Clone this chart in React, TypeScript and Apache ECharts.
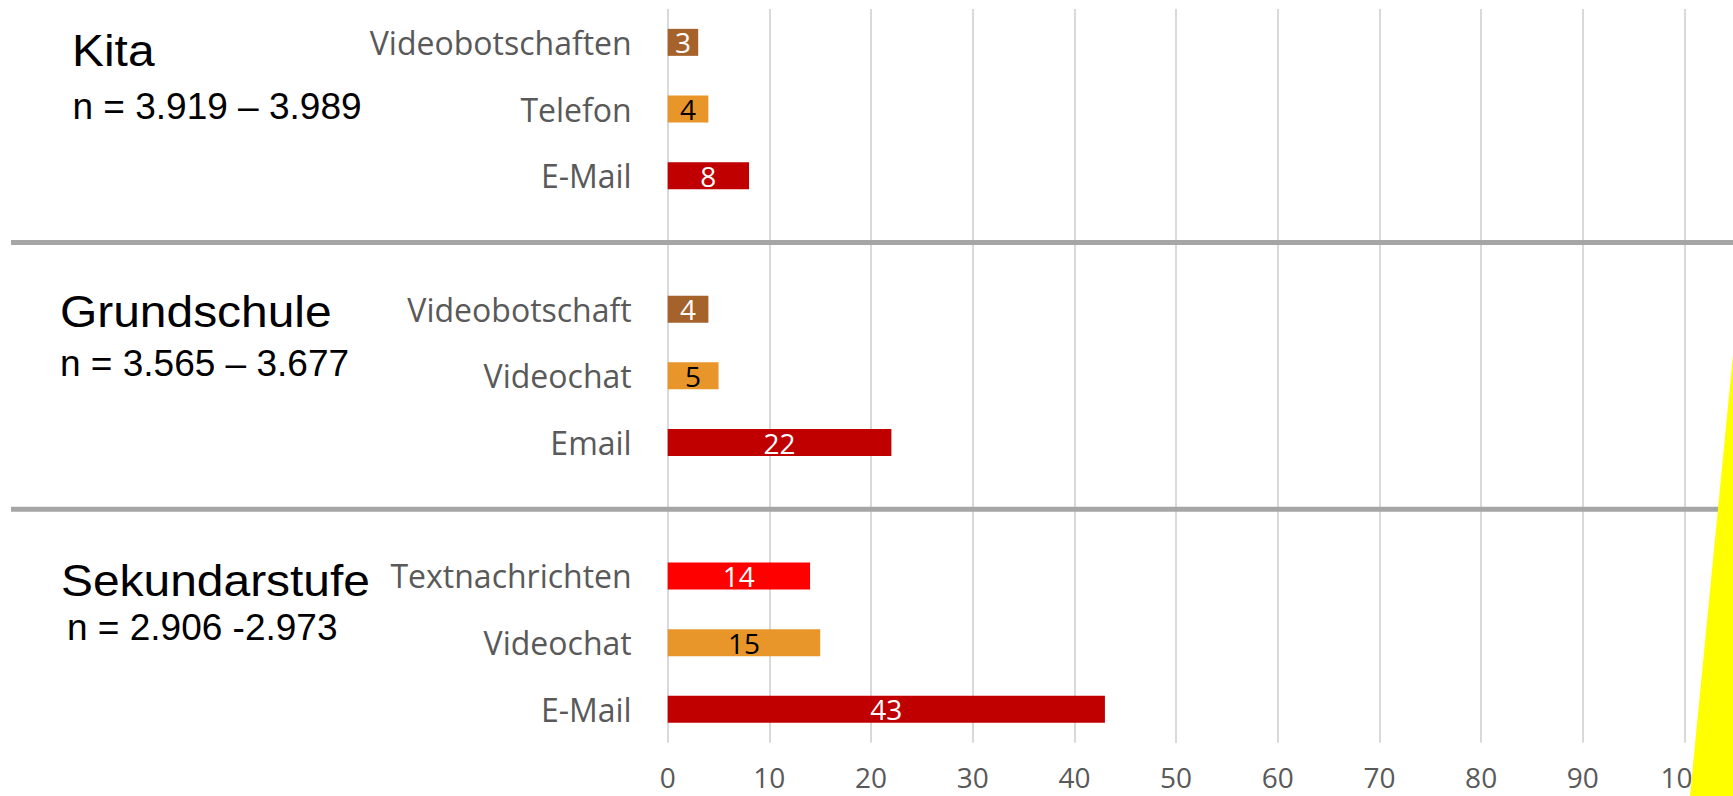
import React, { useEffect, useRef } from "react";
import * as echarts from "echarts";

// ---- data ----
const kitaCategories = ["Videobotschaften", "Telefon", "E-Mail"];
const kitaValues = [3, 4, 8];
const grundCategories = ["Videobotschaft", "Videochat", "Email"];
const grundValues = [4, 5, 22];
const sekCategories = ["Textnachrichten", "Videochat", "E-Mail"];
const sekValues = [14, 15, 43];
const groupTitles = ["Kita", "Grundschule", "Sekundarstufe"];
const groupSubtitles = ["n = 3.919 – 3.989", "n = 3.565 – 3.677", "n = 2.906 -2.973"];
const xMin = 0;
const xMax = 100;
const xStep = 10;

// ---- styles ----
const BROWN = "#A5622B";
const ORANGE = "#E8962A";
const DARKRED = "#C00000";
const RED = "#FF0000";
const groupBarColors = [
  [BROWN, ORANGE, DARKRED],
  [BROWN, ORANGE, DARKRED],
  [RED, ORANGE, DARKRED],
];
const groupLabelColors = [
  ["#ffffff", "#000000", "#ffffff"],
  ["#ffffff", "#000000", "#ffffff"],
  ["#ffffff", "#000000", "#ffffff"],
];
const titlePos = [
  { tx: 72, ty: 50.5, sx: 72.5, sy: 106.5 },
  { tx: 60, ty: 311.7, sx: 60, sy: 363.5 },
  { tx: 61, ty: 580.5, sx: 67, sy: 627.5 },
];

type Row = { id: string; label: string; value: number | null; color: string; textColor: string };

function buildRows(): Row[] {
  const groups = [
    { cats: kitaCategories, vals: kitaValues },
    { cats: grundCategories, vals: grundValues },
    { cats: sekCategories, vals: sekValues },
  ];
  const rows: Row[] = [];
  groups.forEach((g, gi) => {
    if (gi > 0) rows.push({ id: "sep" + gi, label: "", value: null, color: "#fff", textColor: "#fff" });
    g.cats.forEach((c, ci) => {
      rows.push({
        id: gi + "_" + ci,
        label: c,
        value: g.vals[ci],
        color: groupBarColors[gi][ci],
        textColor: groupLabelColors[gi][ci],
      });
    });
  });
  return rows;
}

export default function App() {
  const ref = useRef<HTMLDivElement>(null);
  useEffect(() => {
    if (!ref.current) return;
    const chart = echarts.init(ref.current, null, { renderer: "svg" });
    const rows = buildRows();
    const catFont = '"Open Sans", "Noto Sans", sans-serif';
    chart.setOption({
      animation: false,
      backgroundColor: "#ffffff",
      grid: { left: 667.7, right: 48.5, top: 9, bottom: 53.3, containLabel: false },
      xAxis: {
        type: "value",
        min: xMin,
        max: xMax,
        interval: xStep,
        axisLine: { show: false },
        axisTick: { show: false },
        splitLine: { show: true, lineStyle: { color: "#D9D9D9", width: 2 } },
        axisLabel: { color: "#595959", fontSize: 28, fontFamily: catFont, margin: 20, lineHeight: 28 },
      },
      yAxis: {
        type: "category",
        inverse: true,
        data: rows.map((r) => r.id),
        axisLine: { show: false },
        axisTick: { show: false },
        splitLine: { show: false },
        axisLabel: {
          color: "#595959",
          fontSize: 32,
          fontFamily: catFont,
          margin: 36,
          formatter: (_v: string, i: number) => rows[i].label,
        },
      },
      series: [
        {
          type: "bar",
          barWidth: 27,
          data: rows.map((r) => ({
            value: r.value === null ? "-" : r.value,
            itemStyle: { color: r.color },
            label: { color: r.textColor },
          })),
          label: {
            show: true,
            position: "inside",
            fontSize: 28,
            fontFamily: catFont,
          },
        },
      ],
    });

    const graphics: any[] = [];
    rows.forEach((r) => {
      if (r.value === null) {
        const y = chart.convertToPixel({ yAxisIndex: 0 }, r.id) as number;
        graphics.push({
          type: "line",
          z: 50,
          shape: { x1: 11, y1: y, x2: 1733, y2: y },
          style: { stroke: "#A6A6A6", lineWidth: 5 },
        });
      }
    });
    groupTitles.forEach((t, i) => {
      const p = titlePos[i];
      graphics.push({
        type: "text",
        x: p.tx,
        y: p.ty,
        scaleX: 1.065,
        z: 60,
        style: {
          text: t,
          fill: "#000000",
          font: '45px "Liberation Sans", Arial, sans-serif',
          align: "left",
          verticalAlign: "middle",
        },
      });
      graphics.push({
        type: "text",
        x: p.sx,
        y: p.sy,
        z: 60,
        style: {
          text: groupSubtitles[i],
          fill: "#000000",
          font: '37px "Liberation Sans", Arial, sans-serif',
          align: "left",
          verticalAlign: "middle",
        },
      });
    });
    graphics.push({
      type: "polygon",
      z: 70,
      shape: { points: [[1690, 796], [1733, 355], [1733, 796]] },
      style: { fill: "#FFFF00" },
    });
    chart.setOption({ graphic: graphics });

    return () => chart.dispose();
  }, []);
  return (
    <div
      ref={ref}
      style={{ position: "fixed", left: 0, top: 0, width: 1733, height: 796, background: "#fff" }}
    />
  );
}
